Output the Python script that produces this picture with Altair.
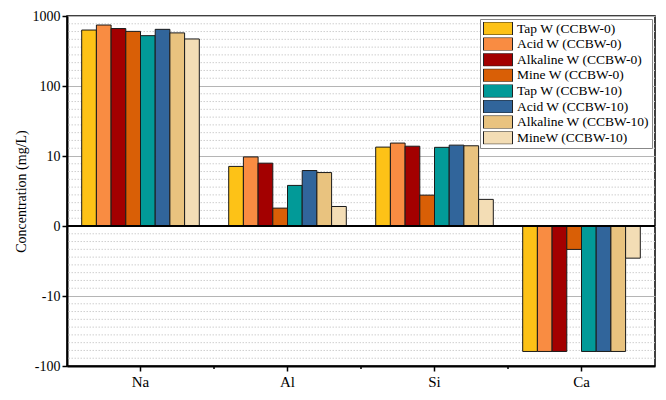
import altair as alt
import pandas as pd
import numpy as np

categories = ["Na", "Al", "Si", "Ca"]
series = [
    "Tap W (CCBW-0)", "Acid W (CCBW-0)", "Alkaline W (CCBW-0)", "Mine W (CCBW-0)",
    "Tap W (CCBW-10)", "Acid W (CCBW-10)", "Alkaline W (CCBW-10)", "MineW (CCBW-10)",
]
colors = ["#FDC217", "#F98C42", "#A30000", "#D95F06",
          "#029A98", "#31659B", "#E9C37F", "#F3DDB5"]

tap0 = [630, 7.1, 13.4, -62]
acid0 = [743, 9.7, 15.3, -62]
alk0 = [662, 7.9, 13.8, -62]
mine0 = [603, 1.8, 2.76, -2.16]
tap10 = [524, 3.8, 13.3, -62]
acid10 = [645, 6.2, 14.3, -62]
alk10 = [574, 5.8, 14.0, -62]
mine10 = [470, 1.9, 2.4, -2.88]

tick_values = [-2, -1, 0, 1, 2, 3]

all_vals = [tap0, acid0, alk0, mine0, tap10, acid10, alk10, mine10]
rows = []
for s, vals in zip(series, all_vals):
    for c, v in zip(categories, vals):
        rows.append({"cat": c, "series": s, "value": v})
df = pd.DataFrame(rows)

W, H = 588, 350
FONT = "'Liberation Serif', 'Times New Roman', Times, serif"
P_IN, P_OUT = 0.2, 0.1
step = W / (len(categories) - P_IN + 2 * P_OUT)
Y_TITLE = "Concentration (mg/L)"

# minor dotted gridlines: 8 evenly spaced lines per decade
minor = [d + k / 9 for d in range(-2, 3) for k in range(1, 9)]
minor_df = pd.DataFrame({"t": minor})

x_scale = alt.Scale(paddingInner=P_IN, paddingOuter=P_OUT)
y_scale = alt.Scale(domain=[-2, 3], nice=False, zero=False)

label_expr = ("datum.value == 0 ? '0' : (datum.value > 0 ? format(pow(10, datum.value), 'd')"
              " : '-' + format(pow(10, -datum.value), 'd'))")

x_axis = alt.Axis(labelAngle=0, labelFont=FONT, labelFontSize=15, labelColor="black",
                  domainColor="black", domainWidth=2, tickColor="black",
                  tickWidth=1.5, tickSize=5, labelPadding=3, grid=False)
y_axis = alt.Axis(values=tick_values, labelExpr=label_expr, labelFont=FONT,
                  labelFontSize=14, labelColor="black", titleFont=FONT,
                  titleFontSize=14, titleFontWeight="normal", titleColor="black",
                  titlePadding=4, domainColor="black", domainWidth=2,
                  tickColor="black", tickWidth=1.5, tickSize=5, labelPadding=2,
                  grid=True, gridColor="#b5b5b5", gridWidth=1)

minor_grid = alt.Chart(minor_df).mark_rule(
    color="#cfcfcf", strokeWidth=1, strokeDash=[1.5, 1.5]
).encode(y=alt.Y("t:Q", scale=y_scale, axis=y_axis, title=Y_TITLE))

sym_path = "M-1,-0.45L1,-0.45L1,0.45L-1,0.45Z"

bars = alt.Chart(df).transform_calculate(
    t="datum.value == 0 ? 0 : (datum.value > 0 ? 1 : -1) * log(abs(datum.value)) / LN10"
).mark_bar(stroke="#1a1a1a", strokeWidth=1).encode(
    x=alt.X("cat:N", sort=categories, scale=x_scale, title=None, axis=x_axis),
    xOffset=alt.XOffset("series:N", sort=series,
                        scale=alt.Scale(paddingInner=0, paddingOuter=0)),
    y=alt.Y("t:Q", scale=y_scale, title=Y_TITLE, axis=y_axis),
    color=alt.Color("series:N", sort=series,
                    scale=alt.Scale(domain=series, range=colors),
                    legend=alt.Legend(title=None, orient="none", legendX=413, legendY=3,
                                      symbolType=sym_path, symbolSize=841,
                                      clipHeight=13, rowPadding=1.6,
                                      symbolStrokeColor="#222", symbolStrokeWidth=1,
                                      labelFont=FONT, labelFontSize=13.5, labelColor="black",
                                      labelOffset=4,
                                      strokeColor="#888", fillColor="white", padding=3,
                                      labelLimit=300)),
)

zero_line = alt.Chart(pd.DataFrame({"t": [0]})).mark_rule(
    color="black", strokeWidth=2
).encode(y=alt.Y("t:Q", scale=y_scale, axis=y_axis, title=Y_TITLE))

minor_ticks = alt.Chart(pd.DataFrame({"cat": categories[:3]})).mark_rule(
    color="black", strokeWidth=1.5, xOffset=step * P_IN / 2
).encode(
    x=alt.X("cat:N", sort=categories, scale=x_scale, axis=x_axis, title=None,
            bandPosition=1),
    y=alt.value(H),
    y2=alt.value(H + 3),
)

chart = alt.layer(minor_grid, bars, zero_line, minor_ticks).properties(
    width=W, height=H,
    autosize="none",
    padding={"left": 59, "top": 8, "right": 3, "bottom": 26},
).configure_view(stroke="black", strokeWidth=1.5)

chart.save("out.html", embed_options={"renderer": "svg", "actions": False})
